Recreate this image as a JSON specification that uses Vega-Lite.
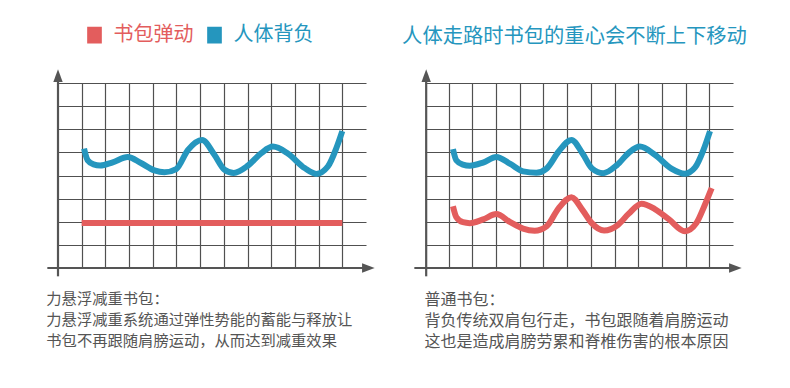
{
  "$schema": "https://vega.github.io/schema/vega-lite/v6.json",
  "background": "white",
  "padding": {"left": 45, "top": 25, "right": 20, "bottom": 20},
  "spacing": 59,
  "bounds": "flush",
  "resolve": {"scale": {"color": "independent"}},
  "config": {"view": {"stroke": null}, "font": "Noto Sans CJK SC"},
  "datasets": {
    "left": [
      {"series": "书包弹动", "x": 0, "y": 1.95},
      {"series": "书包弹动", "x": 11, "y": 1.95},
      {"series": "人体背负", "x": 0.1, "y": 5.16},
      {"series": "人体背负", "x": 0.25, "y": 4.66},
      {"series": "人体背负", "x": 0.5, "y": 4.48},
      {"series": "人体背负", "x": 0.78, "y": 4.43},
      {"series": "人体背负", "x": 1.31, "y": 4.57},
      {"series": "人体背负", "x": 1.94, "y": 4.8},
      {"series": "人体背负", "x": 2.5, "y": 4.54},
      {"series": "人体背负", "x": 3.07, "y": 4.22},
      {"series": "人体背负", "x": 3.49, "y": 4.14},
      {"series": "人体背负", "x": 3.99, "y": 4.28},
      {"series": "人体背负", "x": 4.48, "y": 5.1},
      {"series": "人体背负", "x": 5.08, "y": 5.54},
      {"series": "人体背负", "x": 5.6, "y": 4.9},
      {"series": "人体背负", "x": 6.03, "y": 4.25},
      {"series": "人体背负", "x": 6.42, "y": 4.11},
      {"series": "人体背负", "x": 7.01, "y": 4.42},
      {"series": "人体背负", "x": 7.58, "y": 4.97},
      {"series": "人体背负", "x": 8.07, "y": 5.25},
      {"series": "人体背负", "x": 8.7, "y": 4.95},
      {"series": "人体背负", "x": 9.41, "y": 4.32},
      {"series": "人体背负", "x": 9.9, "y": 4.07},
      {"series": "人体背负", "x": 10.39, "y": 4.39},
      {"series": "人体背负", "x": 10.75, "y": 5.19},
      {"series": "人体背负", "x": 11.0, "y": 5.92}
    ],
    "right": [
      {"series": "人体背负", "x": 0.18, "y": 5.14},
      {"series": "人体背负", "x": 0.32, "y": 4.66},
      {"series": "人体背负", "x": 0.6, "y": 4.47},
      {"series": "人体背负", "x": 0.89, "y": 4.42},
      {"series": "人体背负", "x": 1.45, "y": 4.56},
      {"series": "人体背负", "x": 2.01, "y": 4.8},
      {"series": "人体背负", "x": 2.6, "y": 4.5},
      {"series": "人体背负", "x": 3.14, "y": 4.18},
      {"series": "人体背负", "x": 3.7, "y": 4.12},
      {"series": "人体背负", "x": 4.13, "y": 4.3},
      {"series": "人体背负", "x": 4.65, "y": 5.05},
      {"series": "人体背负", "x": 5.18, "y": 5.54},
      {"series": "人体背负", "x": 5.65, "y": 4.95},
      {"series": "人体背负", "x": 6.05, "y": 4.3},
      {"series": "人体背负", "x": 6.52, "y": 4.1},
      {"series": "人体背负", "x": 7.1, "y": 4.45},
      {"series": "人体背负", "x": 7.6, "y": 4.98},
      {"series": "人体背负", "x": 8.07, "y": 5.25},
      {"series": "人体背负", "x": 8.7, "y": 4.9},
      {"series": "人体背负", "x": 9.4, "y": 4.3},
      {"series": "人体背负", "x": 9.97, "y": 4.08},
      {"series": "人体背负", "x": 10.4, "y": 4.35},
      {"series": "人体背负", "x": 10.75, "y": 5.1},
      {"series": "人体背负", "x": 11.03, "y": 5.92},
      {"series": "书包弹动", "x": 0.18, "y": 2.67},
      {"series": "书包弹动", "x": 0.32, "y": 2.2},
      {"series": "书包弹动", "x": 0.6, "y": 1.98},
      {"series": "书包弹动", "x": 0.89, "y": 1.94},
      {"series": "书包弹动", "x": 1.45, "y": 2.1},
      {"series": "书包弹动", "x": 2.01, "y": 2.33},
      {"series": "书包弹动", "x": 2.6, "y": 1.98},
      {"series": "书包弹动", "x": 3.14, "y": 1.7},
      {"series": "书包弹动", "x": 3.63, "y": 1.61},
      {"series": "书包弹动", "x": 4.13, "y": 1.8},
      {"series": "书包弹动", "x": 4.65, "y": 2.6},
      {"series": "书包弹动", "x": 5.18, "y": 3.06},
      {"series": "书包弹动", "x": 5.65, "y": 2.5},
      {"series": "书包弹动", "x": 6.03, "y": 1.95},
      {"series": "书包弹动", "x": 6.56, "y": 1.62},
      {"series": "书包弹动", "x": 7.15, "y": 1.87},
      {"series": "书包弹动", "x": 7.6, "y": 2.35},
      {"series": "书包弹动", "x": 8.14, "y": 2.78},
      {"series": "书包弹动", "x": 8.7, "y": 2.55},
      {"series": "书包弹动", "x": 9.3, "y": 2.1},
      {"series": "书包弹动", "x": 9.97, "y": 1.59},
      {"series": "书包弹动", "x": 10.46, "y": 1.95},
      {"series": "书包弹动", "x": 10.8, "y": 2.7},
      {"series": "书包弹动", "x": 11.1, "y": 3.45}
    ]
  },
  "hconcat": [
    {
      "width": 308,
      "height": 185,
      "layer": [
        {
          "data": {"name": "left"},
          "mark": {"type": "line", "strokeWidth": 6, "interpolate": "monotone", "strokeCap": "butt"},
          "encoding": {
            "x": {
              "field": "x", "type": "quantitative",
              "scale": {"domain": [-1, 12], "nice": false, "zero": false},
              "axis": {
                "values": [0, 1, 2, 3, 4, 5, 6, 7, 8, 9, 10, 11], "tickCount": 30,
                "grid": true, "gridColor": "#505050", "gridWidth": 1.2,
                "domain": false, "ticks": false, "labels": false,
                "title": ["力悬浮减重书包：", "力悬浮减重系统通过弹性势能的蓄能与释放让", "书包不再跟随肩膀运动，从而达到减重效果"],
                "titleFontSize": 15.3, "titleFontWeight": "normal", "titleColor": "#555555",
                "titleAlign": "left", "titleAnchor": "start", "titleBaseline": "top",
                "titleX": -12.2, "titleY": 23.5, "titleLineHeight": 21
              }
            },
            "y": {
              "field": "y", "type": "quantitative",
              "scale": {"domain": [0, 8], "nice": false, "zero": false},
              "axis": {
                "values": [1, 2, 3, 4, 5, 6, 7, 8], "tickCount": 30,
                "grid": true, "gridColor": "#505050", "gridWidth": 1.2,
                "domain": false, "ticks": false, "labels": false, "title": null
              }
            },
            "color": {
              "field": "series", "type": "nominal",
              "scale": {"domain": ["书包弹动", "人体背负"], "range": ["#e35d5d", "#2596be"]},
              "legend": {
                "orient": "none", "legendX": 26.5, "legendY": -58,
                "direction": "horizontal", "title": null,
                "symbolType": "M-0.8,-0.93L0.8,-0.93L0.8,0.93L-0.8,0.93Z",
                "symbolSize": 270, "symbolStrokeWidth": 1.5,
                "symbolFillColor": {"expr": "datum.value === '书包弹动' ? '#e35d5d' : '#2596be'"},
                "labelFontSize": 20, "labelOffset": 9, "columnPadding": 11,
                "labelColor": {"expr": "datum.value === '书包弹动' ? '#e35d5d' : '#2596be'"}
              }
            }
          }
        },
        {
          "data": {"values": [{}]},
          "mark": {"type": "rule", "color": "#555555", "strokeWidth": 2.2},
          "encoding": {
            "x": {"datum": -1.45, "type": "quantitative"},
            "x2": {"datum": 12},
            "y": {"datum": 0, "type": "quantitative"}
          }
        },
        {
          "data": {"values": [{}]},
          "mark": {"type": "rule", "color": "#555555", "strokeWidth": 2.2},
          "encoding": {
            "x": {"datum": -1, "type": "quantitative"},
            "y": {"datum": -0.36, "type": "quantitative"},
            "y2": {"datum": 8.05}
          }
        },
        {
          "data": {"values": [{}]},
          "mark": {"type": "point", "shape": "M0,-1L0.74,1L-0.74,1Z", "filled": true, "size": 160, "color": "#555555", "opacity": 1},
          "encoding": {
            "x": {"datum": -1, "type": "quantitative"},
            "y": {"datum": 8.32, "type": "quantitative"}
          }
        },
        {
          "data": {"values": [{}]},
          "mark": {"type": "point", "shape": "M1,0L-1,0.74L-1,-0.74Z", "filled": true, "size": 160, "color": "#555555", "opacity": 1},
          "encoding": {
            "x": {"datum": 12.1, "type": "quantitative"},
            "y": {"datum": 0, "type": "quantitative"}
          }
        }
      ]
    },
    {
      "width": 308,
      "height": 185,
      "title": {
        "text": "人体走路时书包的重心会不断上下移动",
        "color": "#2596be", "fontSize": 20.3, "fontWeight": "normal",
        "anchor": "middle", "dx": -4.5, "offset": 22
      },
      "layer": [
        {
          "data": {"name": "right"},
          "mark": {"type": "line", "strokeWidth": 6, "interpolate": "monotone", "strokeCap": "butt"},
          "encoding": {
            "x": {
              "field": "x", "type": "quantitative",
              "scale": {"domain": [-1, 12], "nice": false, "zero": false},
              "axis": {
                "values": [0, 1, 2, 3, 4, 5, 6, 7, 8, 9, 10, 11], "tickCount": 30,
                "grid": true, "gridColor": "#505050", "gridWidth": 1.2,
                "domain": false, "ticks": false, "labels": false,
                "title": ["普通书包：", "背负传统双肩包行走，书包跟随着肩膀运动", "这也是造成肩膀劳累和脊椎伤害的根本原因"],
                "titleFontSize": 16, "titleFontWeight": "normal", "titleColor": "#555555",
                "titleAlign": "left", "titleAnchor": "start", "titleBaseline": "top",
                "titleX": -0.9, "titleY": 23.2, "titleLineHeight": 21.3
              }
            },
            "y": {
              "field": "y", "type": "quantitative",
              "scale": {"domain": [0, 8], "nice": false, "zero": false},
              "axis": {
                "values": [1, 2, 3, 4, 5, 6, 7, 8], "tickCount": 30,
                "grid": true, "gridColor": "#505050", "gridWidth": 1.2,
                "domain": false, "ticks": false, "labels": false, "title": null
              }
            },
            "color": {
              "field": "series", "type": "nominal",
              "scale": {"domain": ["书包弹动", "人体背负"], "range": ["#e35d5d", "#2596be"]},
              "legend": null
            }
          }
        },
        {
          "data": {"values": [{}]},
          "mark": {"type": "rule", "color": "#555555", "strokeWidth": 2.2},
          "encoding": {
            "x": {"datum": -1.45, "type": "quantitative"},
            "x2": {"datum": 12},
            "y": {"datum": 0, "type": "quantitative"}
          }
        },
        {
          "data": {"values": [{}]},
          "mark": {"type": "rule", "color": "#555555", "strokeWidth": 2.2},
          "encoding": {
            "x": {"datum": -0.95, "type": "quantitative"},
            "y": {"datum": -0.36, "type": "quantitative"},
            "y2": {"datum": 8.05}
          }
        },
        {
          "data": {"values": [{}]},
          "mark": {"type": "point", "shape": "M0,-1L0.74,1L-0.74,1Z", "filled": true, "size": 160, "color": "#555555", "opacity": 1},
          "encoding": {
            "x": {"datum": -0.95, "type": "quantitative"},
            "y": {"datum": 8.32, "type": "quantitative"}
          }
        },
        {
          "data": {"values": [{}]},
          "mark": {"type": "point", "shape": "M1,0L-1,0.74L-1,-0.74Z", "filled": true, "size": 160, "color": "#555555", "opacity": 1},
          "encoding": {
            "x": {"datum": 12.1, "type": "quantitative"},
            "y": {"datum": 0, "type": "quantitative"}
          }
        }
      ]
    }
  ]
}
